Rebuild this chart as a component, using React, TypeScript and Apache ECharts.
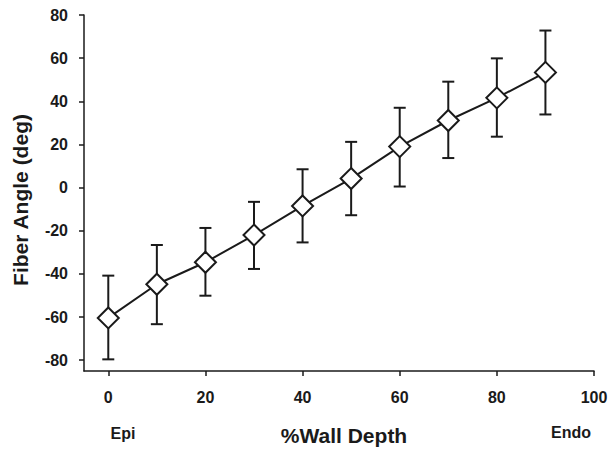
import React, { useEffect, useRef } from "react";
import * as echarts from "echarts";

const depths = [0, 10, 20, 30, 40, 50, 60, 70, 80, 90];
const meanAngle = [-60.4, -44.8, -34.6, -22.0, -8.5, 4.2, 19.0, 31.1, 41.6, 53.4];
const upperAngle = [-40.8, -26.6, -18.7, -6.6, 8.5, 21.2, 37.0, 49.1, 59.9, 72.8];
const lowerAngle = [-79.6, -63.3, -50.1, -37.7, -25.4, -12.8, 0.5, 13.7, 23.6, 33.9];
const xTicks = [0, 20, 40, 60, 80, 100];
const yTicks = [-80, -60, -40, -20, 0, 20, 40, 60, 80];

const FONT = "'Liberation Sans', Arial, sans-serif";
const INK = "#1a1a1a";

export default function App() {
  const ref = useRef<HTMLDivElement>(null);
  useEffect(() => {
    if (!ref.current) return;
    const chart = echarts.init(ref.current, undefined, { renderer: "svg" });
    const errData = depths.map((d, i) => [d, lowerAngle[i], upperAngle[i]]);
    chart.setOption({
      animation: false,
      backgroundColor: "#fff",
      grid: { left: 84, right: 18, top: 15, bottom: 82 },
      xAxis: {
        type: "value",
        min: -5,
        max: 100,
        splitLine: { show: false },
        axisLine: { onZero: false, lineStyle: { color: INK, width: 1.5 } },
        axisTick: { show: true, length: 5, customValues: xTicks, lineStyle: { color: INK, width: 1.5 } },
        axisLabel: {
          customValues: xTicks,
          margin: 18,
          color: INK,
          fontSize: 16,
          fontWeight: "bold",
          fontFamily: FONT,
        },
      },
      yAxis: {
        type: "value",
        min: -85,
        max: 80,
        splitLine: { show: false },
        axisLine: { show: true, onZero: false, lineStyle: { color: INK, width: 1.5 } },
        axisTick: { show: true, length: 5, customValues: yTicks, lineStyle: { color: INK, width: 1.5 } },
        axisLabel: {
          customValues: yTicks,
          margin: 16,
          color: INK,
          fontSize: 16,
          fontWeight: "bold",
          fontFamily: FONT,
        },
      },
      graphic: [
        {
          type: "text",
          x: 20,
          y: 200,
          rotation: Math.PI / 2,
          style: {
            text: "Fiber Angle (deg)",
            textAlign: "center",
            textVerticalAlign: "middle",
            fill: INK,
            font: `bold 21px ${FONT}`,
          },
        },
        {
          type: "text",
          x: 344,
          y: 435,
          style: {
            text: "%Wall Depth",
            textAlign: "center",
            textVerticalAlign: "middle",
            fill: INK,
            font: `bold 21px ${FONT}`,
          },
        },
        {
          type: "text",
          x: 123,
          y: 433,
          style: {
            text: "Epi",
            textAlign: "center",
            textVerticalAlign: "middle",
            fill: INK,
            font: `bold 16px ${FONT}`,
          },
        },
        {
          type: "text",
          x: 571,
          y: 432,
          style: {
            text: "Endo",
            textAlign: "center",
            textVerticalAlign: "middle",
            fill: INK,
            font: `bold 16px ${FONT}`,
          },
        },
      ],
      series: [
        {
          type: "custom",
          z: 1,
          data: errData,
          renderItem: (params: any, api: any) => {
            const x = api.value(0);
            const lo = api.coord([x, api.value(1)]);
            const hi = api.coord([x, api.value(2)]);
            const hw = 6;
            const style = { stroke: INK, lineWidth: 2 };
            return {
              type: "group",
              children: [
                { type: "line", shape: { x1: lo[0], y1: lo[1], x2: hi[0], y2: hi[1] }, style },
                { type: "line", shape: { x1: lo[0] - hw, y1: lo[1], x2: lo[0] + hw, y2: lo[1] }, style },
                { type: "line", shape: { x1: hi[0] - hw, y1: hi[1], x2: hi[0] + hw, y2: hi[1] }, style },
              ],
            };
          },
        },
        {
          type: "line",
          z: 3,
          data: depths.map((d, i) => [d, meanAngle[i]]),
          symbol: "diamond",
          symbolSize: [21, 21],
          lineStyle: { color: INK, width: 2 },
          itemStyle: { color: "#fff", borderColor: INK, borderWidth: 2 },
        },
      ],
    });
    return () => chart.dispose();
  }, []);
  return (
    <div
      ref={ref}
      style={{ position: "fixed", left: 0, top: 0, width: 612, height: 453, background: "#fff" }}
    />
  );
}
